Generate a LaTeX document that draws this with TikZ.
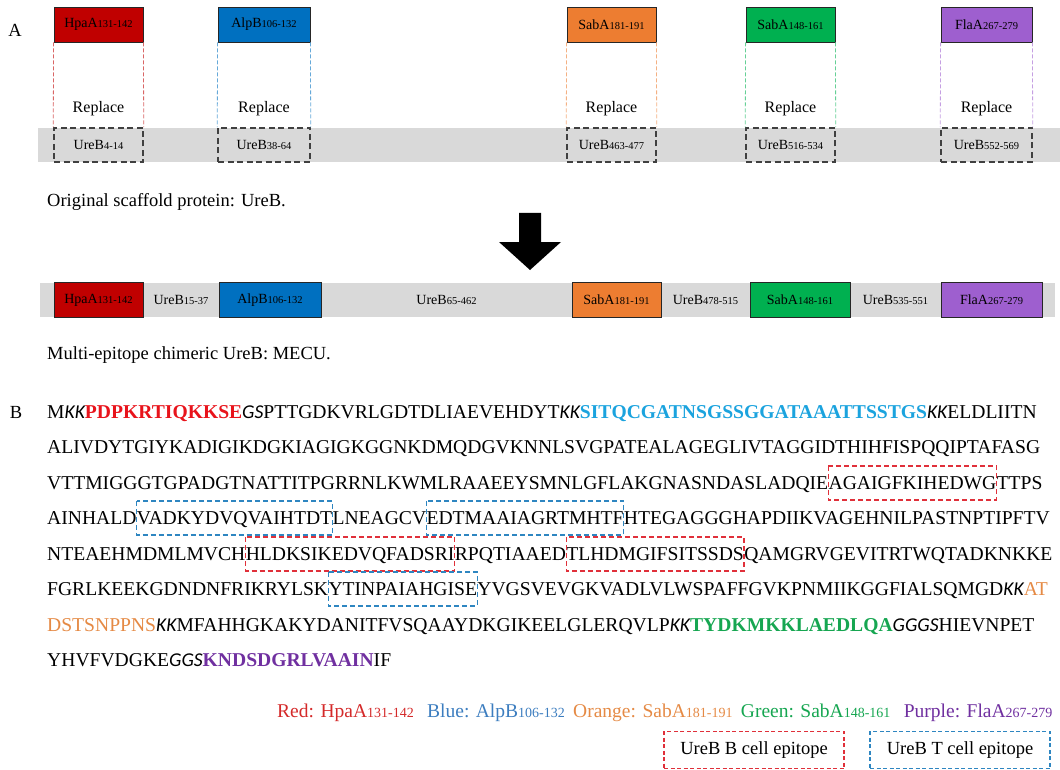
\documentclass[tikz,border=0pt]{standalone}
\usepackage{fontspec}
\setmainfont{Liberation Serif}
\newfontfamily\linkfont{Carlito}
\usetikzlibrary{positioning,calc}
\definecolor{hpared}{HTML}{C00000}
\definecolor{alpblue}{HTML}{0070C0}
\definecolor{sabaorange}{HTML}{ED7D31}
\definecolor{sabagreen}{HTML}{00B050}
\definecolor{flapurple}{HTML}{9E5FCF}
\definecolor{bandgray}{HTML}{D9D9D9}
\definecolor{seqred}{HTML}{E8131B}
\definecolor{seqcyan}{HTML}{1BA3DE}
\definecolor{seqorange}{HTML}{E58A45}
\definecolor{seqgreen}{HTML}{16A651}
\definecolor{seqpurple}{HTML}{7030A0}
\definecolor{bred}{HTML}{E0303A}
\definecolor{tblue}{HTML}{2E86C1}
\definecolor{lgred}{HTML}{D42A2A}
\definecolor{lgblue}{HTML}{3C7DBF}
\newcommand\rng[1]{{\fontsize{10.5}{11}\selectfont #1}}
\newcommand\lrng[1]{{\fontsize{14}{15}\selectfont #1}}
\newcommand\lk[1]{{\linkfont\itshape #1}}
\begin{document}
\begin{tikzpicture}[x=1pt,y=-1pt,font=\fontsize{18.5}{20}\selectfont,
  epibox/.style={draw=black!85,line width=0.8pt,minimum height=35pt,inner sep=0pt,font=\fontsize{14}{15}\selectfont},
  ureb/.style={draw=black!75,line width=1.5pt,dash pattern=on 6pt off 3.5pt,minimum height=34pt,inner sep=0pt,font=\fontsize{14}{15}\selectfont},
  linker/.style={inner sep=0pt,font=\fontsize{14}{15}\selectfont},
  guide/.style={line width=0.8pt,dash pattern=on 4pt off 2pt},
  seq/.style={inner sep=0pt,anchor=base west,font=\fontsize{19.6}{21}\selectfont},
  bcell/.style={draw=bred,line width=1.3pt,dash pattern=on 5pt off 3pt},
  tcell/.style={draw=tblue,line width=1.3pt,dash pattern=on 5pt off 3pt},
  legend/.style={inner sep=0pt,anchor=base west,font=\fontsize{19.5}{21}\selectfont},
  keybox/.style={line width=1.3pt,dash pattern=on 4pt off 2.5pt,minimum width=180pt,minimum height=37pt}]
\useasboundingbox (0,0) rectangle (1060,770);
% A: original scaffold
\node (lblA) at (15,30) {A};
\fill[bandgray] (38,128) rectangle (1060,162);
\foreach \l/\r/\c/\ep/\er/\ur/\n in {54/143/hpared/HpaA/131-142/4-14/1,218/310/alpblue/AlpB/106-132/38-64/2,567/656/sabaorange/SabA/181-191/463-477/3,746/835/sabagreen/SabA/148-161/516-534/4,941/1032/flapurple/FlaA/267-279/552-569/5}{
  \pgfmathsetmacro{\w}{\r-\l}
  \node[epibox,fill=\c,minimum width=\w pt] (top\n) at ({(\l+\r)/2},24.5) {\ep\rng{\er}};
  \node[ureb,minimum width=\w pt] (old\n) at ({(\l+\r)/2},145) {UreB\rng{\ur}};
  \node[font=\fontsize{16}{17}\selectfont] (rep\n) at ({(\l+\r)/2},109) {Replace};
  \draw[guide,\c!60] (top\n.south west) -- (old\n.north west);
  \draw[guide,\c!60] (top\n.south east) -- (old\n.north east);
}
\node[anchor=west,inner sep=0pt] (orig) at (47,202) {Original scaffold protein: UreB.};
% big arrow
\fill (519,213) -- (541,213) -- (541,242) -- (561,242) -- (530,270) -- (499,242) -- (519,242) -- cycle;
% chimeric MECU
\fill[bandgray] (40,283) rectangle (1055,317);
\foreach \l/\r/\c/\ep/\er/\n in {54/143/hpared/HpaA/131-142/1,219/321/alpblue/AlpB/106-132/2,572/661/sabaorange/SabA/181-191/3,750/850/sabagreen/SabA/148-161/4,941/1042/flapurple/FlaA/267-279/5}{
  \pgfmathsetmacro{\w}{\r-\l}
  \node[epibox,fill=\c,minimum width=\w pt] (new\n) at ({(\l+\r)/2},300) {\ep\rng{\er}};
}
\node[linker] (gap1) at ($(new1.east)!0.5!(new2.west)$) {UreB\rng{15-37}};
\node[linker] (gap2) at ($(new2.east)!0.5!(new3.west)$) {UreB\rng{65-462}};
\node[linker] (gap3) at ($(new3.east)!0.5!(new4.west)$) {UreB\rng{478-515}};
\node[linker] (gap4) at ($(new4.east)!0.5!(new5.west)$) {UreB\rng{535-551}};
\node[anchor=west,inner sep=0pt] (mecu) at (47,355) {Multi-epitope chimeric UreB: MECU.};
% B: sequence
\node (lblB) at (16,412) {B};
\node[seq] (l1) at (47,418) {M\lk{KK}\textcolor{seqred}{\bfseries PDPKRTIQKKSE}\lk{GS}PTTGDKVRLGDTDLIAEVEHDYT\lk{KK}\textcolor{seqcyan}{\bfseries SITQCGATNSGSSGGATAAATTSSTGS}\lk{KK}ELDLIITN};
\node[seq] (l2) at (47,453.5) {ALIVDYTGIYKADIGIKDGKIAGIGKGGNKDMQDGVKNNLSVGPATEALAGEGLIVTAGGIDTHIHFISPQQIPTAFASG};
\node[seq] (l3a) at (47,489) {VTTMIGGGTGPADGTNATTITPGRRNLKWMLRAAEEYSMNLGFLAKGNASNDASLADQIE};
\node[seq] (l3b) at (l3a.base east) {AGAIGFKIHEDWG};
\node[seq] (l3c) at (l3b.base east) {TTPS};
\node[seq] (l4a) at (47,524) {AINHALD};
\node[seq] (l4b) at (l4a.base east) {VADKYDVQVAIHTDT};
\node[seq] (l4c) at (l4b.base east) {LNEAGCV};
\node[seq] (l4d) at (l4c.base east) {EDTMAAIAGRTMHTF};
\node[seq] (l4e) at (l4d.base east) {HTEGAGGGHAPDIIKVAGEHNILPASTNPTIPFTV};
\node[seq] (l5a) at (47,560) {NTEAEHMDMLMVCH};
\node[seq] (l5b) at (l5a.base east) {HLDKSIKEDVQFADSRI};
\node[seq] (l5c) at (l5b.base east) {RPQTIAAED};
\node[seq] (l5d) at (l5c.base east) {TLHDMGIFSITSSDS};
\node[seq] (l5e) at (l5d.base east) {QAMGRVGEVITRTWQTADKNKKE};
\node[seq] (l6a) at (47,595) {FGRLKEEKGDNDNFRIKRYLSK};
\node[seq] (l6b) at (l6a.base east) {YTINPAIAHGISE};
\node[seq] (l6c) at (l6b.base east) {YVGSVEVGKVADLVLWSPAFFGVKPNMIIKGGFIALSQMGD\lk{KK}\textcolor{seqorange}{AT}};
\node[seq] (l7) at (47,631) {\textcolor{seqorange}{DSTSNPPNS}\lk{KK}MFAHHGKAKYDANITFVSQAAYDKGIKEELGLERQVLP\lk{KK}\textcolor{seqgreen}{\bfseries TYDKMKKLAEDLQA}\lk{GGGS}HIEVNPET};
\node[seq] (l8) at (47,666) {YHVFVDGKE\lk{GGS}\textcolor{seqpurple}{\bfseries KNDSDGRLVAAIN}IF};
% epitope boxes
\draw[bcell] ([yshift=23pt]l3b.base west) rectangle ([yshift=-11pt]l3b.base east);
\draw[tcell] ([yshift=23pt]l4b.base west) rectangle ([yshift=-11pt]l4b.base east);
\draw[tcell] ([yshift=23pt]l4d.base west) rectangle ([yshift=-11pt]l4d.base east);
\draw[bcell] ([yshift=23pt]l5b.base west) rectangle ([yshift=-11pt]l5b.base east);
\draw[bcell] ([yshift=23pt]l5d.base west) rectangle ([yshift=-11pt]l5d.base east);
\draw[tcell] ([yshift=23pt]l6b.base west) rectangle ([yshift=-11pt]l6b.base east);
% legend
\node[legend,text=lgred] (lgA) at (277,717) {Red: HpaA\lrng{131-142}};
\node[legend,text=lgblue] (lgB) at ([xshift=13pt]lgA.base east) {Blue: AlpB\lrng{106-132}};
\node[legend,text=seqorange] (lgC) at ([xshift=8pt]lgB.base east) {Orange: SabA\lrng{181-191}};
\node[legend,text=seqgreen] (lgD) at ([xshift=8pt]lgC.base east) {Green: SabA\lrng{148-161}};
\node[legend,text=seqpurple] (lgE) at ([xshift=13pt]lgD.base east) {Purple: FlaA\lrng{267-279}};
\node[keybox,draw=bred] (keyB) at (754,750) {UreB B cell epitope};
\node[keybox,draw=tblue] (keyT) at (960,750) {UreB T cell epitope};
\end{tikzpicture}
\end{document}
